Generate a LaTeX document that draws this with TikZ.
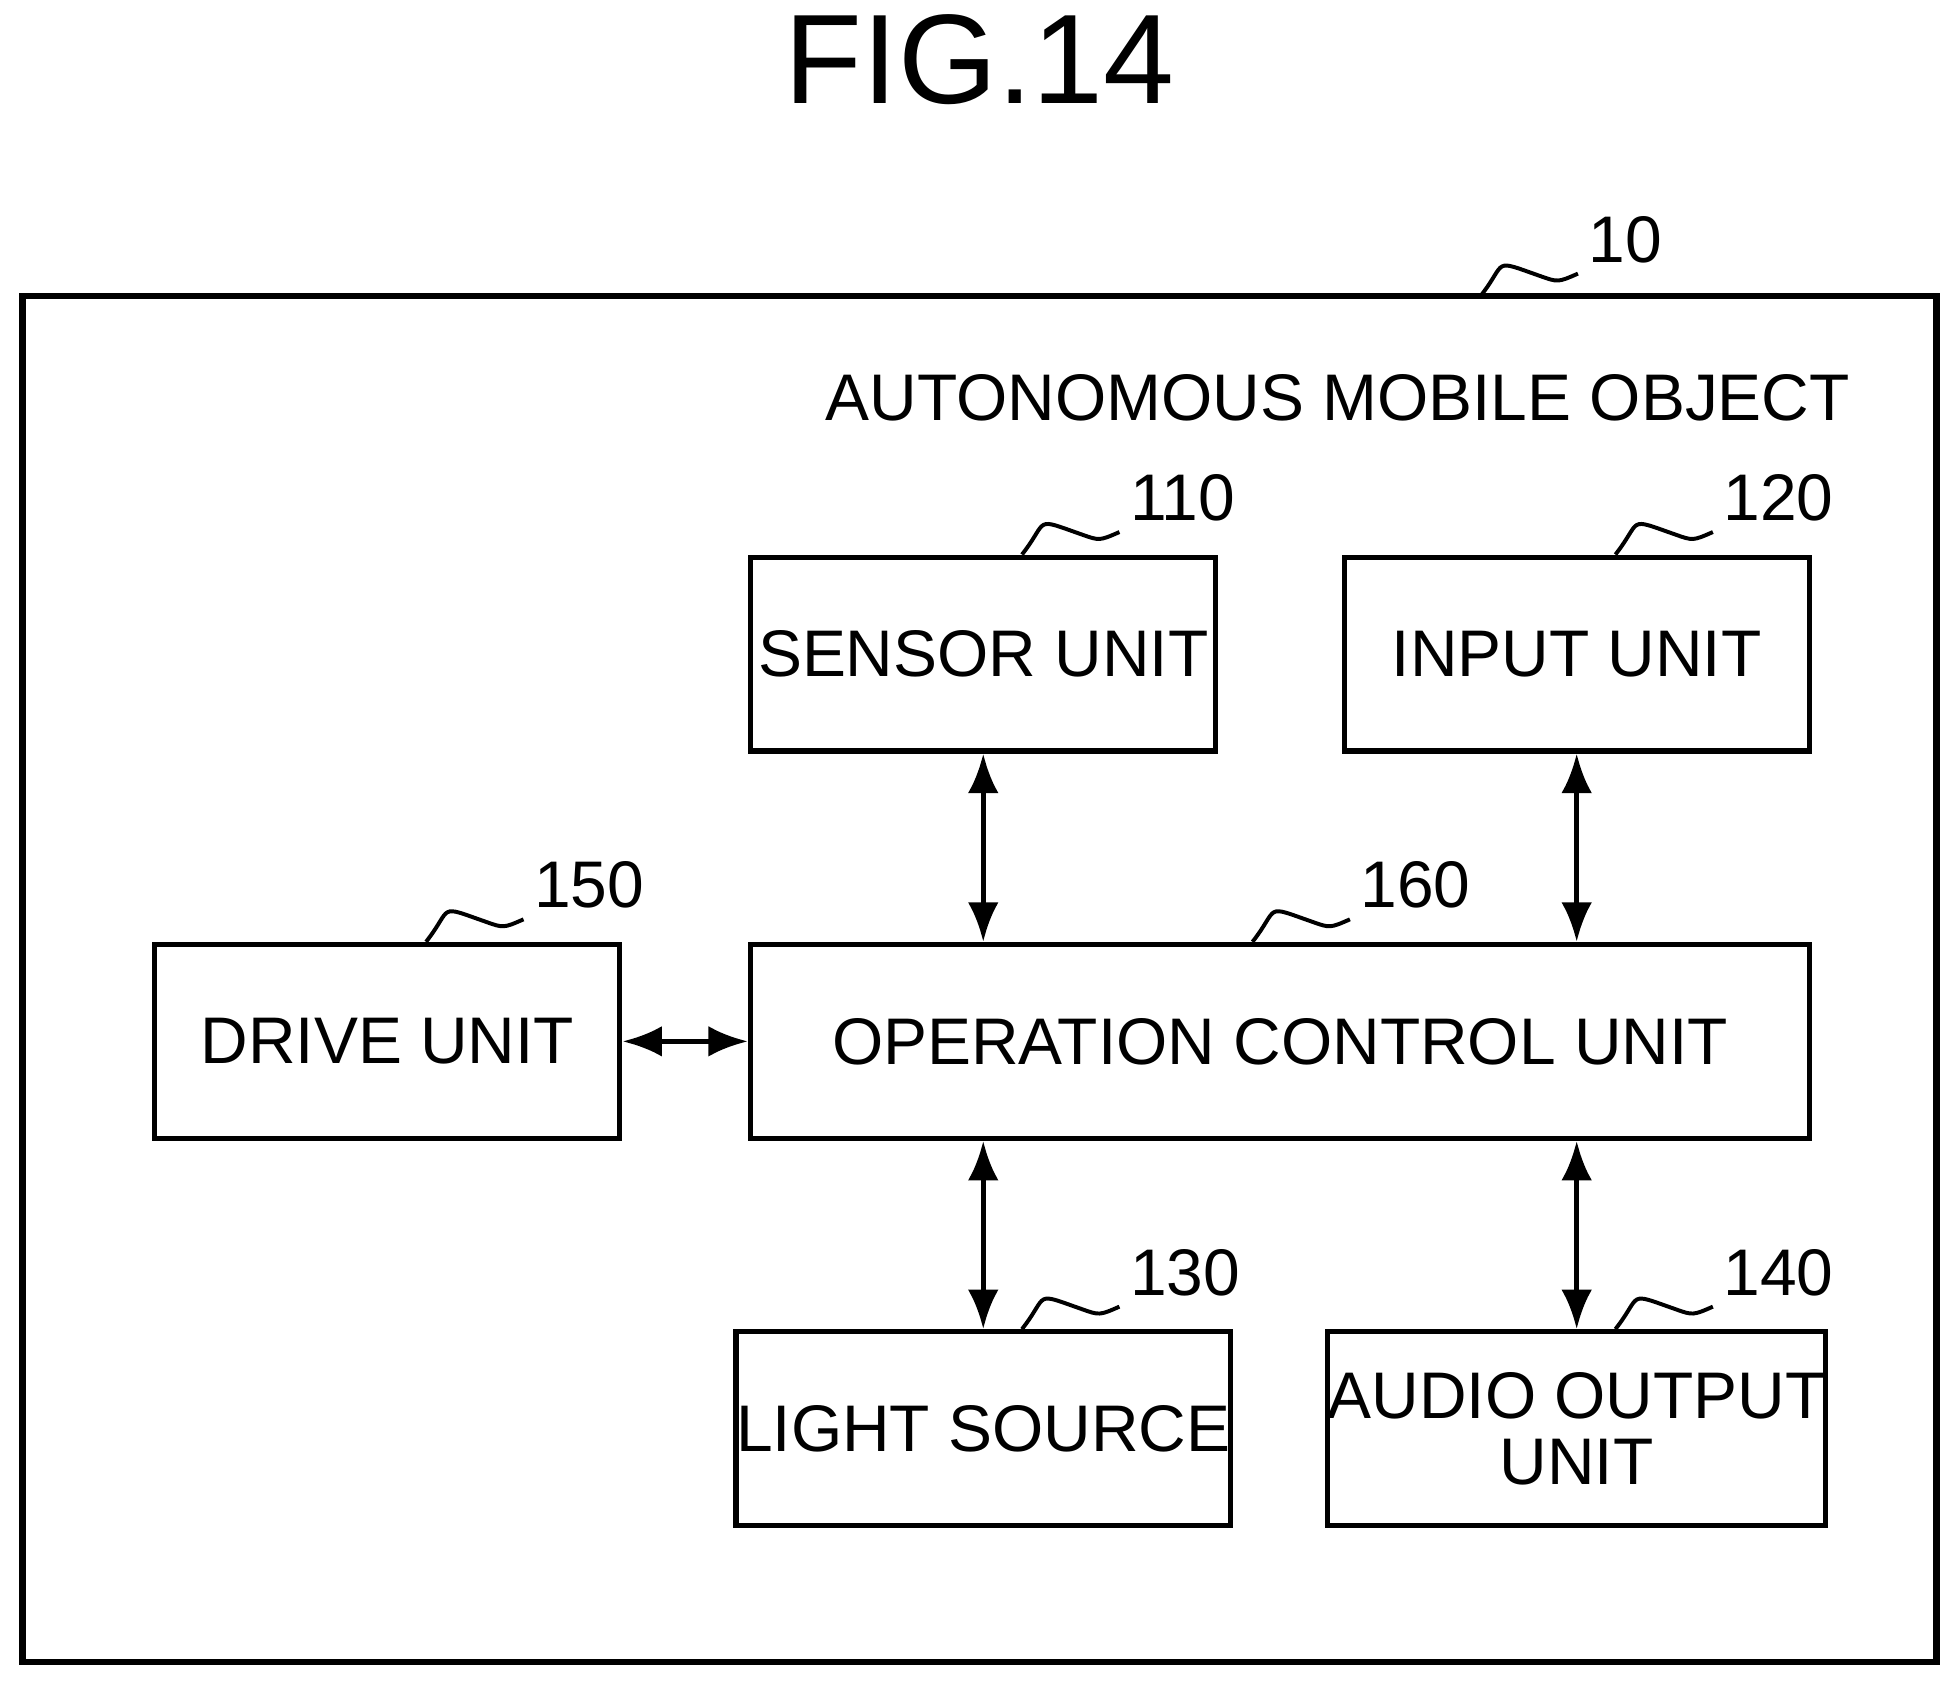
\documentclass[tikz,border=0pt]{standalone}
\usepackage{fontspec}
\setmainfont{Liberation Sans}
\usetikzlibrary{positioning,arrows.meta,calc}
\newcommand{\refmark}[2]{%
  \draw[line width=0.9pt] (#1) .. controls +(22,-28) and +(-40,-14) .. ++(48,-16)
    .. controls +(14,5) .. ++(30,-2) node[anchor=south west,inner sep=2pt,font=\fontsize{15}{15}\selectfont] {#2};}
\begin{document}
\begin{tikzpicture}[x=0.01cm,y=-0.01cm,
  unit/.style={draw,line width=1.2pt,minimum width=3.72cm,minimum height=1.55cm,
    align=center,font=\fontsize{15}{15}\selectfont,inner sep=0pt},
  link/.style={line width=1.2pt,{Latex[length=9pt,width=7pt]}-{Latex[length=9pt,width=7pt]}}]
\useasboundingbox (0,0) rectangle (1568,1347);
\node[font=\fontsize{29}{29}\selectfont] (fig) at (784,48) {FIG.14};
\draw[line width=1.4pt] (18,237) rectangle (1550,1330);
\node[font=\fontsize{15}{15}\selectfont,anchor=east] (title) at (1493,318) {AUTONOMOUS MOBILE OBJECT};
\node[unit] (sensor) at (787,523.5) {SENSOR UNIT};
\node[unit] (input) at (1262,523.5) {INPUT UNIT};
\node[unit] (drive) at (310,833.5) {DRIVE UNIT};
\node[unit,minimum width=8.47cm] (ctrl) at (1024.5,833.5) {OPERATION CONTROL UNIT};
\node[unit] (light) at (787,1143.5) {LIGHT SOURCE};
\node[unit] (audio) at (1262,1143.5) {AUDIO OUTPUT\\UNIT};
% links
\draw[link] (sensor.south) -- (sensor.south |- ctrl.north);
\draw[link] (input.south) -- (input.south |- ctrl.north);
\draw[link] (light.north) -- (light.north |- ctrl.south);
\draw[link] (audio.north) -- (audio.north |- ctrl.south);
\draw[link] (drive.east) -- (ctrl.west);
% reference numerals
\coordinate (m10) at (1185,237);
\refmark{m10}{10}
\refmark{$(sensor.north)+(31,0)$}{110}
\refmark{$(input.north)+(31,0)$}{120}
\refmark{$(drive.north)+(31,0)$}{150}
\refmark{$(ctrl.north)+(-22,0)$}{160}
\refmark{$(light.north)+(31,0)$}{130}
\refmark{$(audio.north)+(31,0)$}{140}
\end{tikzpicture}
\end{document}
